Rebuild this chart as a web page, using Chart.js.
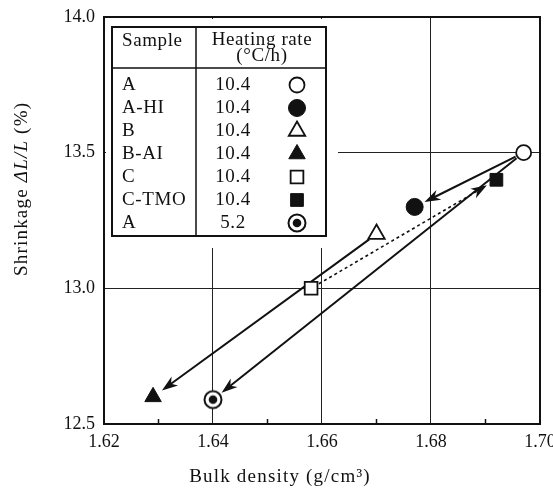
<!DOCTYPE html>
<html>
<head>
<meta charset="utf-8">
<script src="https://cdn.jsdelivr.net/npm/chart.js@4.4.0/dist/chart.umd.min.js"></script>
<style>
  html, body { margin: 0; padding: 0; background: #fff; }
  #wrap { width: 553px; height: 491px; }
</style>
</head>
<body>
<div id="wrap"><canvas id="shrinkChart" width="553" height="491"></canvas></div>
<script>
// values
const samples = ['A', 'A-HI', 'B', 'B-AI', 'C', 'C-TMO', 'A'];
const heatingRates = ['10.4', '10.4', '10.4', '10.4', '10.4', '10.4', '5.2'];
const bulkDensity = [1.697, 1.677, 1.670, 1.629, 1.658, 1.692, 1.640];
const shrinkage = [13.50, 13.30, 13.20, 12.60, 13.00, 13.40, 12.59];
const xTicks = [1.62, 1.64, 1.66, 1.68, 1.70];
const yTicks = [12.5, 13.0, 13.5, 14.0];
const xMinorTicks = [1.63, 1.65, 1.67, 1.69];
// arrows between samples (index from -> index to)
const arrowFrom = [0, 0, 2, 4];
const arrowTo = [1, 6, 3, 5];
const arrowDashed = [false, false, false, true];

const FONT = "'Liberation Serif', 'DejaVu Serif', serif";
const INK = '#111';

// circle with a dot in it, for the 5.2 C/h run
const bullseye = document.createElement('canvas');
bullseye.width = 22; bullseye.height = 22;
(function () {
  const c = bullseye.getContext('2d');
  c.lineWidth = 2;
  c.fillStyle = '#fff';
  c.strokeStyle = INK;
  c.beginPath(); c.arc(11, 11, 8.5, 0, Math.PI * 2); c.fill(); c.stroke();
  c.fillStyle = INK;
  c.beginPath(); c.arc(11, 11, 4.3, 0, Math.PI * 2); c.fill();
})();

const markers = [
  { pointStyle: 'circle', radius: 7.5, fill: '#fff', border: 1.8 },
  { pointStyle: 'circle', radius: 8.5, fill: INK, border: 1 },
  { pointStyle: 'triangle', radius: 9.5, fill: '#fff', border: 1.8 },
  { pointStyle: 'triangle', radius: 9.5, fill: INK, border: 1 },
  { pointStyle: 'rect', radius: 9, fill: '#fff', border: 1.8 },
  { pointStyle: 'rect', radius: 9, fill: INK, border: 1 },
  { pointStyle: bullseye, radius: 9, fill: '#fff', border: 0 }
];

const datasets = samples.map((s, i) => ({
  label: s + ' (' + heatingRates[i] + ')',
  data: [{ x: bulkDensity[i], y: shrinkage[i] }],
  pointStyle: markers[i].pointStyle,
  pointRadius: markers[i].radius,
  pointBackgroundColor: markers[i].fill,
  pointBorderColor: INK,
  pointBorderWidth: markers[i].border,
  showLine: false
}));

function drawArrow(ctx, x1, y1, x2, y2, dashed) {
  const ang = Math.atan2(y2 - y1, x2 - x1);
  const c = Math.cos(ang), s = Math.sin(ang);
  const sx = x1 + c * 9, sy = y1 + s * 9;
  const tx = x2 - c * 11, ty = y2 - s * 11;
  const L = 16, W = 5.5;
  ctx.save();
  ctx.strokeStyle = INK;
  ctx.fillStyle = INK;
  ctx.lineWidth = dashed ? 1.6 : 2;
  if (dashed) ctx.setLineDash([3, 3]);
  ctx.beginPath();
  ctx.moveTo(sx, sy);
  ctx.lineTo(tx - c * L * 0.6, ty - s * L * 0.6);
  ctx.stroke();
  ctx.setLineDash([]);
  ctx.beginPath();
  ctx.moveTo(tx, ty);
  ctx.lineTo(tx - c * L - s * W, ty - s * L + c * W);
  ctx.lineTo(tx - c * L * 0.7, ty - s * L * 0.7);
  ctx.lineTo(tx - c * L + s * W, ty - s * L - c * W);
  ctx.closePath();
  ctx.fill();
  ctx.restore();
}

const figurePlugin = {
  id: 'figure',
  beforeDatasetsDraw(chart) {
    const { ctx, chartArea: ca, scales: { x, y } } = chart;
    ctx.save();
    ctx.strokeStyle = INK;

    // minor ticks on bottom axis
    ctx.lineWidth = 1.5;
    xMinorTicks.forEach(v => {
      const px = x.getPixelForValue(v);
      ctx.beginPath();
      ctx.moveTo(px, ca.bottom);
      ctx.lineTo(px, ca.bottom - 5);
      ctx.stroke();
    });

    // white patch behind the sample table
    const tl = ca.left + 8, tt = ca.top + 10, tr = ca.left + 222, tb = ca.top + 219;
    ctx.fillStyle = '#fff';
    ctx.fillRect(ca.left + 2, ca.top + 2, tr + 12 - ca.left - 2, tb + 12 - ca.top - 2);

    // frame
    ctx.lineWidth = 2;
    ctx.strokeRect(ca.left, ca.top, ca.width, ca.height);

    // table
    const divX = tl + 84, headY = tt + 41;
    ctx.strokeRect(tl, tt, tr - tl, tb - tt);
    ctx.lineWidth = 1.5;
    ctx.beginPath();
    ctx.moveTo(tl, headY); ctx.lineTo(tr, headY);
    ctx.moveTo(divX, tt); ctx.lineTo(divX, tb);
    ctx.stroke();

    ctx.fillStyle = INK;
    ctx.font = '19px ' + FONT;
    ctx.letterSpacing = '0.6px';
    ctx.textBaseline = 'middle';
    ctx.textAlign = 'left';
    ctx.fillText('Sample', tl + 10, tt + 14);
    ctx.textAlign = 'center';
    ctx.fillText('Heating rate', tl + 150, tt + 13);
    ctx.fillText('(\u00B0C/h)', tl + 150, tt + 29);

    samples.forEach((s, i) => {
      const ry = tt + 58 + i * 23;
      ctx.textAlign = 'left';
      ctx.fillText(s, tl + 10, ry);
      ctx.textAlign = 'center';
      ctx.fillText(heatingRates[i], tl + 121, ry);
      const m = markers[i];
      ctx.fillStyle = m.fill;
      ctx.strokeStyle = INK;
      ctx.lineWidth = m.border;
      Chart.helpers.drawPoint(ctx, { pointStyle: m.pointStyle, radius: m.radius, rotation: 0, borderWidth: m.border }, tl + 185, ry);
      ctx.fillStyle = INK;
    });
    ctx.letterSpacing = '0px';

    // arrows
    arrowFrom.forEach((a, k) => {
      const b = arrowTo[k];
      drawArrow(ctx,
        x.getPixelForValue(bulkDensity[a]), y.getPixelForValue(shrinkage[a]),
        x.getPixelForValue(bulkDensity[b]), y.getPixelForValue(shrinkage[b]),
        arrowDashed[k]);
    });
    ctx.restore();
  },
  afterDraw(chart) {
    const { ctx, chartArea: ca } = chart;
    ctx.save();
    ctx.fillStyle = INK;
    ctx.font = '19px ' + FONT;
    ctx.letterSpacing = '1.2px';
    ctx.textBaseline = 'middle';
    ctx.textAlign = 'center';
    ctx.fillText('Bulk density (g/cm\u00B3)', ca.left + 176, 477);

    // y title: rotated, with italic ΔL/L
    ctx.translate(22, 276);
    ctx.rotate(-Math.PI / 2);
    ctx.textAlign = 'left';
    const parts = [['Shrinkage ', false], ['\u0394L/L', true], [' (%)', false]];
    let off = 0;
    parts.forEach(([t, it]) => {
      ctx.font = (it ? 'italic ' : '') + '19px ' + FONT;
      ctx.fillText(t, off, 0);
      off += ctx.measureText(t).width;
    });
    ctx.restore();
  }
};

new Chart(document.getElementById('shrinkChart').getContext('2d'), {
  type: 'scatter',
  data: { datasets: datasets },
  options: {
    responsive: false,
    animation: false,
    layout: { padding: { top: 17, right: 13, left: 0, bottom: 0 } },
    plugins: { legend: { display: false }, tooltip: { enabled: false } },
    scales: {
      x: {
        type: 'linear',
        min: 1.62,
        max: 1.70,
        afterBuildTicks: s => { s.ticks = xTicks.map(v => ({ value: v })); },
        afterFit: s => { s.height = 67; s.paddingLeft = 0; s.paddingRight = 0; },
        ticks: {
          color: INK,
          font: { family: FONT, size: 18 },
          padding: 7,
          maxRotation: 0,
          callback: v => v.toFixed(2)
        },
        grid: { color: '#222', lineWidth: 1, drawTicks: false },
        border: { display: true, color: INK, width: 2 }
      },
      y: {
        type: 'linear',
        min: 12.5,
        max: 14.0,
        afterBuildTicks: s => { s.ticks = yTicks.map(v => ({ value: v })); },
        afterFit: s => { s.width = 104; s.paddingTop = 0; s.paddingBottom = 0; },
        ticks: {
          color: INK,
          font: { family: FONT, size: 18 },
          padding: 9,
          callback: v => v.toFixed(1)
        },
        grid: { color: '#222', lineWidth: 1, drawTicks: false },
        border: { display: true, color: INK, width: 2 }
      }
    }
  },
  plugins: [figurePlugin]
});
</script>
</body>
</html>
